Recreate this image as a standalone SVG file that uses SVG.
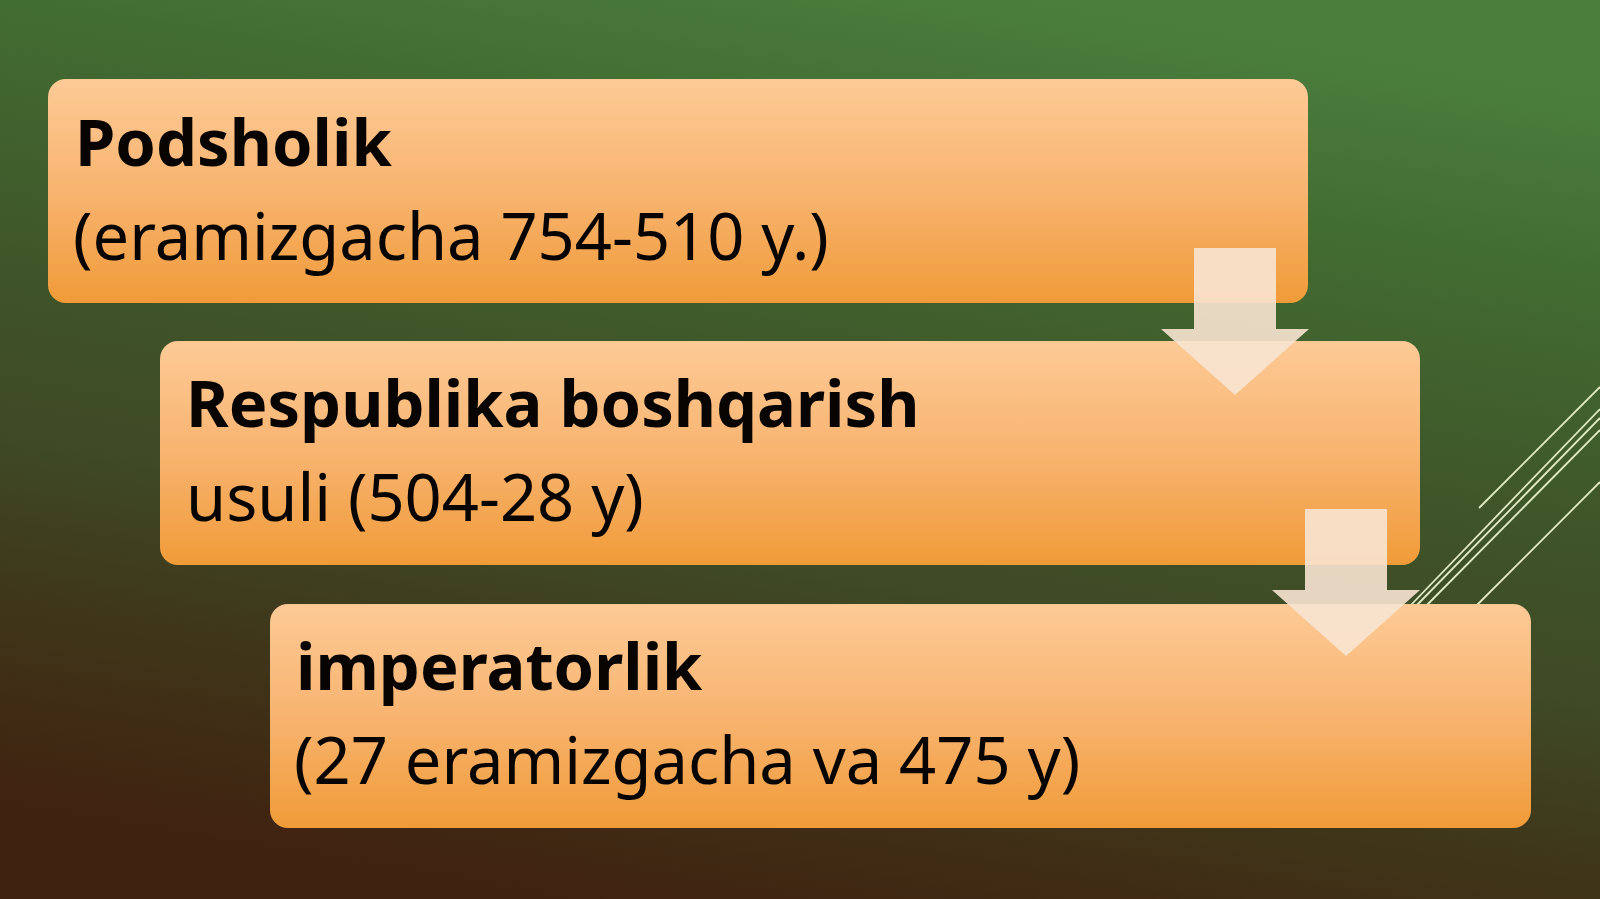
<svg xmlns="http://www.w3.org/2000/svg" width="1600" height="899" viewBox="0 0 1600 899">
  <defs>
    <linearGradient id="bg" x1="0.35" y1="1" x2="0.65" y2="0">
      <stop offset="0" stop-color="#402210"/>
      <stop offset="0.2" stop-color="#3f3519"/>
      <stop offset="0.38" stop-color="#3f4a26"/>
      <stop offset="0.52" stop-color="#3f5228"/>
      <stop offset="0.82" stop-color="#426d32"/>
      <stop offset="1" stop-color="#4b7e3d"/>
    </linearGradient>
    <linearGradient id="boxg" x1="0" y1="0" x2="0" y2="1">
      <stop offset="0" stop-color="#fdca96"/>
      <stop offset="0.5" stop-color="#f8b470"/>
      <stop offset="1" stop-color="#f09b38"/>
    </linearGradient>
  </defs>
  <style>
    .box { fill: url(#boxg); }
    .t1 { font-family: "Noto Sans", "Open Sans", "DejaVu Sans", sans-serif; font-size: 65px; font-weight: bold; fill: #080402; }
    .t2 { font-family: "Noto Sans", "Open Sans", "DejaVu Sans", sans-serif; font-size: 65px; fill: #080402; }
    .arrow { fill: #f8e4d2; fill-opacity: 0.9; }
    .deco { stroke: #e2ecc4; stroke-width: 1.8; fill: none; }
  </style>
  <rect x="0" y="0" width="1600" height="899" fill="url(#bg)"/>
  <g id="decoration">
    <line class="deco" x1="1479" y1="508" x2="1600" y2="387"/>
    <line class="deco" x1="1410" y1="606" x2="1600" y2="409"/>
    <line class="deco" x1="1416" y1="606" x2="1600" y2="418"/>
    <line class="deco" x1="1426" y1="606" x2="1600" y2="430"/>
    <line class="deco" x1="1476" y1="606" x2="1600" y2="482"/>
  </g>
  <g id="node1">
    <rect class="box" x="48" y="79" width="1260" height="224" rx="18"/>
    <text class="t1" x="75" y="166">Podsholik</text>
    <text class="t2" x="73" y="260">(eramizgacha 754-510 y.)</text>
  </g>
  <g id="node2">
    <rect class="box" x="160" y="341" width="1260" height="224" rx="18"/>
    <text class="t1" x="186" y="427">Respublika boshqarish</text>
    <text class="t2" x="186" y="521">usuli (504-28 y)</text>
  </g>
  <g id="node3">
    <rect class="box" x="270" y="604" width="1261" height="224" rx="18"/>
    <text class="t1" x="296" y="690">imperatorlik</text>
    <text class="t2" x="294" y="784">(27 eramizgacha va 475 y)</text>
  </g>
  <g id="connectors">
    <polygon class="arrow" points="1194,248 1276,248 1276,329 1309,329 1235,395 1161,329 1194,329"/>
    <polygon class="arrow" points="1305,509 1387,509 1387,590 1420,590 1346,656 1272,590 1305,590"/>
  </g>
</svg>
